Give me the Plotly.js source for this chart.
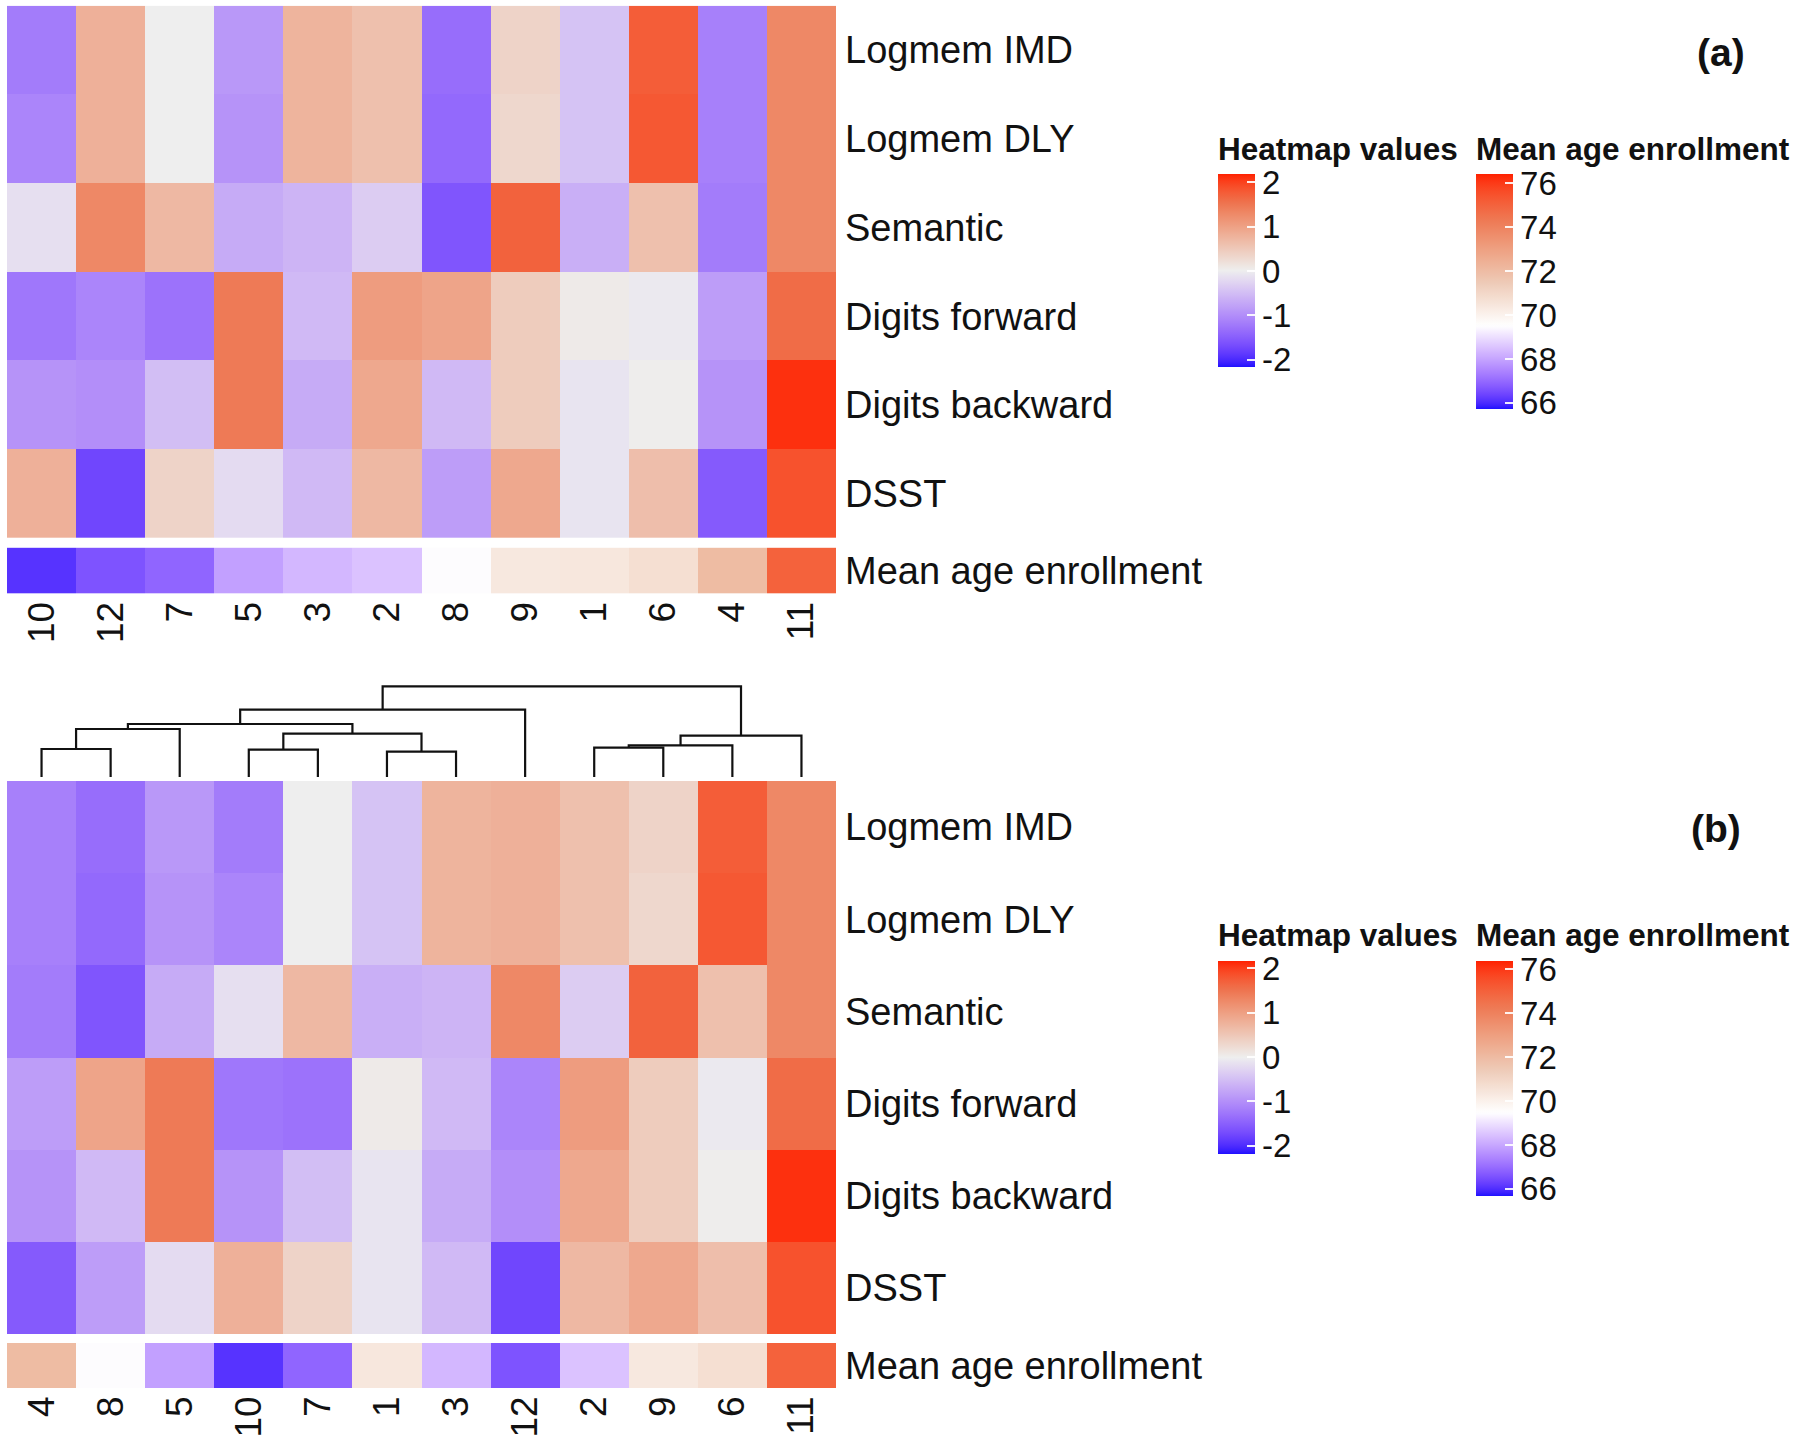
<!DOCTYPE html>
<html><head><meta charset="utf-8">
<script src="https://cdn.plot.ly/plotly-3.0.1.min.js"></script>
<style>html,body{margin:0;padding:0;background:#fff}#chart{width:1800px;height:1440px}</style>
</head><body><div id="chart"></div>
<script>
// ---------------- DATA ----------------
const rowLabels = ['Logmem IMD','Logmem DLY','Semantic','Digits forward','Digits backward','DSST'];
const clusters = ['1','2','3','4','5','6','7','8','9','10','11','12'];
// values per cluster 1..12
const logmemIMD      = [-0.45, 0.60, 0.75, -1.15, -0.90, 1.75, 0.00, -1.35, 0.35, -1.20, 1.30, 0.80];
const logmemDLY      = [-0.45, 0.60, 0.75, -1.15, -0.95, 1.80, 0.00, -1.40, 0.30, -1.10, 1.30, 0.80];
const semantic       = [-0.65, -0.35, -0.60, -1.20, -0.70, 0.60, 0.70, -1.60, 1.70, -0.15, 1.30, 1.30];
const digitsForward  = [0.05, 1.05, -0.55, -0.85, 1.45, -0.05, -1.30, 0.95, 0.45, -1.25, 1.60, -1.10];
const digitsBackward = [-0.10, 0.90, -0.70, -0.95, 1.45, 0.02, -0.50, -0.55, 0.45, -0.95, 2.10, -1.00];
const dsst           = [-0.10, 0.70, -0.55, -1.55, -0.20, 0.62, 0.35, -0.85, 0.90, 0.80, 1.85, -1.75];
const meanAge        = [70.4, 68.5, 68.3, 72.0, 67.9, 70.7, 66.9, 69.5, 70.35, 66.1, 75.0, 66.6];
const orderA = ['10','12','7','5','3','2','8','9','1','6','4','11'];
const orderB = ['4','8','5','10','7','1','3','12','2','9','6','11'];
// dendrogram (panel b): merges of two members (cluster label or merge id) at a height
const mergeLeft   = ['4','10','1','2','m3','m0','m1','m4','m5','m8','m9'];
const mergeRight  = ['8','7','3','9','6','5','m2','11','m6','12','m7'];
const mergeHeight = [28, 27.3, 25.3, 29.3, 31.7, 48, 43.3, 41.3, 53, 67.3, 90.7];
const heatTicks = [-2,-1,0,1,2];
const ageTicks = [66,68,70,72,74,76];

// ---------------- COLOURS (LAB interpolation like colorRamp2) ----------------
function s2l(c){c/=255;return c<=0.04045?c/12.92:Math.pow((c+0.055)/1.055,2.4);}
function l2s(c){c=Math.max(0,Math.min(1,c));return c<=0.0031308?12.92*c:1.055*Math.pow(c,1/2.4)-0.055;}
function hex2rgb(h){return [parseInt(h.slice(1,3),16),parseInt(h.slice(3,5),16),parseInt(h.slice(5,7),16)];}
const WX=0.95047,WY=1,WZ=1.08883;
function f(t){return t>0.008856?Math.cbrt(t):7.787*t+16/116;}
function fi(t){return t>0.206893?t*t*t:(t-16/116)/7.787;}
function rgb2lab(rgb){const [r,g,b]=rgb.map(s2l);
 const X=0.4124*r+0.3576*g+0.1805*b, Y=0.2126*r+0.7152*g+0.0722*b, Z=0.0193*r+0.1192*g+0.9505*b;
 const fx=f(X/WX),fy=f(Y/WY),fz=f(Z/WZ);return [116*fy-16,500*(fx-fy),200*(fy-fz)];}
function lab2rgbArr(lab){const fy=(lab[0]+16)/116,fx=fy+lab[1]/500,fz=fy-lab[2]/200;
 const X=WX*fi(fx),Y=WY*fi(fy),Z=WZ*fi(fz);
 const r=3.2406*X-1.5372*Y-0.4986*Z,g=-0.9689*X+1.8758*Y+0.0415*Z,b=0.0557*X-0.2040*Y+1.0570*Z;
 return [r,g,b].map(v=>Math.round(l2s(v)*255));}
// the reference's red channel stays muted until near the top of the scale
function buildScale(lo,mid,hi,cLo,cMid,cHi,whiteMid){
 const A=rgb2lab(hex2rgb(cLo)),M=rgb2lab(hex2rgb(cMid)),B=rgb2lab(hex2rgb(cHi));
 const out=[];const N=80;
 for(let k=0;k<=N;k++){const v=lo+(hi-lo)*k/N;let lab,rgb;
  if(v<=mid){const t=(v-lo)/(mid-lo);lab=A.map((a,i)=>a+(M[i]-a)*t);rgb=lab2rgbArr(lab);}
  else{const t=(v-mid)/(hi-mid);lab=M.map((m,i)=>m+(B[i]-m)*t);rgb=lab2rgbArr(lab);
   let cap=238+17*Math.max(0,(t-0.7)/0.3);
   if(whiteMid) cap=Math.max(cap,255-60*t);
   rgb[0]=Math.min(rgb[0],Math.round(cap));}
  out.push([k/N,'rgb('+rgb.join(',')+')']);}
 return out;}
const hZmin=-2.18,hZmax=2.18;
const aZmin=65.7,aMid=69.5,aZmax=76.4;
const heatScale=buildScale(hZmin,0,hZmax,'#1E10FF','#EEEEEE','#FF2000',false);
const ageScale=buildScale(aZmin,aMid,aZmax,'#1E10FF','#FFFFFF','#FF2000',true);

// ---------------- BUILD ----------------
const rows=[logmemIMD,logmemDLY,semantic,digitsForward,digitsBackward,dsst];
const colIdx=[0,1,2,3,4,5,6,7,8,9,10,11];
const rowIdx=[0,1,2,3,4,5];
function zFor(order){return rows.map(r=>order.map(c=>r[clusters.indexOf(c)]));}
function ageFor(order){return [order.map(c=>meanAge[clusters.indexOf(c)])];}

const W=1800,H=1440;
const px=v=>v/W, py=v=>1-v/H;
const FONT='Liberation Sans, Arial, Helvetica, sans-serif';
const BAR=37;

function cb(topPx,lenPx,xPx,ticks){
 return {x:px(xPx),xanchor:'left',xpad:0,y:py(topPx),yanchor:'top',ypad:0,
  lenmode:'pixels',len:lenPx,thicknessmode:'pixels',thickness:BAR,outlinewidth:0,
  tickmode:'array',tickvals:ticks,ticktext:ticks.map(String),ticks:'inside',ticklen:8,tickwidth:2,tickcolor:'rgba(255,255,255,0.9)',
  tickfont:{family:FONT,size:33,color:'#111'}};
}
// left-edge white dashes on colour bars (decoration matching the reference legend style)
const legendShapes=[];
function leftDashes(topPx,lenPx,xPx,ticks,zmin,zmax){
 ticks.forEach(v=>{const yy=topPx+(zmax-v)/(zmax-zmin)*lenPx;
  legendShapes.push({type:'line',xref:'paper',yref:'paper',x0:px(xPx),x1:px(xPx+8),y0:py(yy),y1:py(yy),
   line:{color:'rgba(255,255,255,0.9)',width:2}});});
}
leftDashes(174.5,193,1218,heatTicks,hZmin,hZmax);
leftDashes(174.5,235,1476,ageTicks,aZmin,aZmax);
leftDashes(960.5,193,1218,heatTicks,hZmin,hZmax);
leftDashes(960.5,235,1476,ageTicks,aZmin,aZmax);

// dendrogram coordinates from tree
const dpos={},dh={};
orderB.forEach((c,i)=>{dpos[c]=i;dh[c]=0;});
const dx=[],dy=[];
mergeLeft.forEach((a,i)=>{const b=mergeRight[i],h=mergeHeight[i];
 dx.push(dpos[a],dpos[a],dpos[b],dpos[b],null);dy.push(dh[a],h,h,dh[b],null);
 dpos['m'+i]=(dpos[a]+dpos[b])/2;dh['m'+i]=h;});

const traces=[
 {type:'heatmap',x:colIdx,y:rowIdx,z:zFor(orderA),xaxis:'x',yaxis:'y',zmin:hZmin,zmax:hZmax,colorscale:heatScale,
  colorbar:cb(174.5,193,1218,heatTicks),hoverinfo:'skip'},
 {type:'heatmap',x:colIdx,y:[0],z:ageFor(orderA),xaxis:'x2',yaxis:'y2',zmin:aZmin,zmax:aZmax,colorscale:ageScale,
  colorbar:cb(174.5,235,1476,ageTicks),hoverinfo:'skip'},
 {type:'scatter',mode:'lines',x:dx,y:dy,xaxis:'x3',yaxis:'y3',line:{color:'#111',width:2.2},hoverinfo:'skip',showlegend:false},
 {type:'heatmap',x:colIdx,y:rowIdx,z:zFor(orderB),xaxis:'x4',yaxis:'y4',zmin:hZmin,zmax:hZmax,colorscale:heatScale,
  colorbar:cb(960.5,193,1218,heatTicks),hoverinfo:'skip'},
 {type:'heatmap',x:colIdx,y:[0],z:ageFor(orderB),xaxis:'x5',yaxis:'y5',zmin:aZmin,zmax:aZmax,colorscale:ageScale,
  colorbar:cb(960.5,235,1476,ageTicks),hoverinfo:'skip'}
];

const xDom=[px(7),px(836)];
const baseX={domain:xDom,range:[-0.5,11.5],showgrid:false,zeroline:false,showline:false,ticks:'',fixedrange:true};
const LBL=38;
const rowAxis=(dom,anchor)=>({domain:dom,anchor:anchor,range:[5.5,-0.5],side:'right',showgrid:false,zeroline:false,showline:false,
 ticks:'',tickmode:'array',tickvals:rowIdx,ticktext:rowLabels,ticklabelstandoff:8,tickfont:{family:FONT,size:LBL,color:'#111'}});
const annY=(dom,anchor)=>({domain:dom,anchor:anchor,range:[-0.5,0.5],side:'right',showgrid:false,zeroline:false,showline:false,
 ticks:'',tickmode:'array',tickvals:[0],ticktext:['Mean age enrollment'],ticklabelstandoff:8,tickfont:{family:FONT,size:LBL,color:'#111'}});
const colAxis=(anchor,order)=>Object.assign({},baseX,{anchor:anchor,showticklabels:true,tickmode:'array',tickvals:colIdx,ticktext:order,
 tickangle:-90,ticklabelstandoff:0,tickfont:{family:FONT,size:37,color:'#111'}});

const ttl=(t,x,y)=>({text:'<b>'+t+'</b>',xref:'paper',yref:'paper',x:px(x),y:py(y),xanchor:'left',yanchor:'middle',showarrow:false,font:{family:FONT,size:31.5,color:'#111'}});
const layout={
 width:W,height:H,margin:{l:0,r:0,t:0,b:0},paper_bgcolor:'#fff',plot_bgcolor:'#fff',showlegend:false,
 font:{family:FONT,color:'#111'},
 xaxis:Object.assign({},baseX,{anchor:'y',showticklabels:false}),
 yaxis:rowAxis([py(538),py(5.7)],'x'),
 xaxis2:colAxis('y2',orderA),
 yaxis2:annY([py(593.5),py(547.6)],'x2'),
 xaxis3:Object.assign({},baseX,{anchor:'y3',showticklabels:false}),
 yaxis3:{domain:[py(777),py(680)],anchor:'x3',range:[0,97],showgrid:false,zeroline:false,showline:false,showticklabels:false,ticks:''},
 xaxis4:Object.assign({},baseX,{anchor:'y4',showticklabels:false}),
 yaxis4:rowAxis([py(1334),py(781)],'x4'),
 xaxis5:colAxis('y5',orderB),
 yaxis5:annY([py(1388),py(1343)],'x5'),
 shapes:legendShapes,
 annotations:[
  ttl('Heatmap values',1216,149), ttl('Mean age enrollment',1474,149),
  ttl('Heatmap values',1216,935), ttl('Mean age enrollment',1474,935),
  {text:'<b>(a)</b>',xref:'paper',yref:'paper',x:px(1721),y:py(53),xanchor:'center',yanchor:'middle',showarrow:false,font:{family:FONT,size:39,color:'#111'}},
  {text:'<b>(b)</b>',xref:'paper',yref:'paper',x:px(1716),y:py(829),xanchor:'center',yanchor:'middle',showarrow:false,font:{family:FONT,size:39,color:'#111'}}
 ]
};
Plotly.newPlot('chart',traces,layout,{staticPlot:true,displayModeBar:false});
</script></body></html>
